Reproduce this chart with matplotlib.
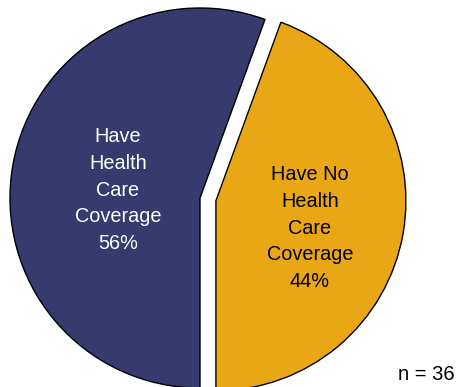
import matplotlib.pyplot as plt

# survey answers, n = 36
labels = ['Have No\nHealth\nCare\nCoverage', 'Have\nHealth\nCare\nCoverage']
counts = [16, 20]
colors = ['#E9A716', '#363A6F']
text_colors = ['black', 'white']
explode = [0.085, 0]

plt.rcParams['font.family'] = ['Liberation Sans', 'DejaVu Sans']

fig = plt.figure(figsize=(4.58, 3.87), dpi=100)
ax = fig.add_axes([0, 0, 1, 1])
wedges, _ = ax.pie(counts, colors=colors, explode=explode, startangle=-90,
                   counterclock=True, wedgeprops=dict(edgecolor='black', linewidth=1))

# axis limits so that radius 1 = 190 px, centre at (200, 198) px
r = 190.0
ax.set_xlim(-200 / r, (458 - 200) / r)
ax.set_ylim(-(387 - 198) / r, 198 / r)
ax.set_aspect('auto')
ax.axis('off')

total = sum(counts)
label_pos = [((310 - 200) / r, (198 - 228) / r), ((118 - 200) / r, (198 - 190) / r)]
for lab, c, tc, (x, y) in zip(labels, counts, text_colors, label_pos):
    pct = round(100 * c / total)
    ax.text(x, y, f'{lab}\n{pct}%', color=tc, fontsize=14.3, ha='center', va='center',
            linespacing=1.53)

fig.text(455 / 458, 1 - 375 / 387, f'n = {total}', fontsize=14.5, ha='right', va='center')

fig.savefig('out.png', dpi=100)
